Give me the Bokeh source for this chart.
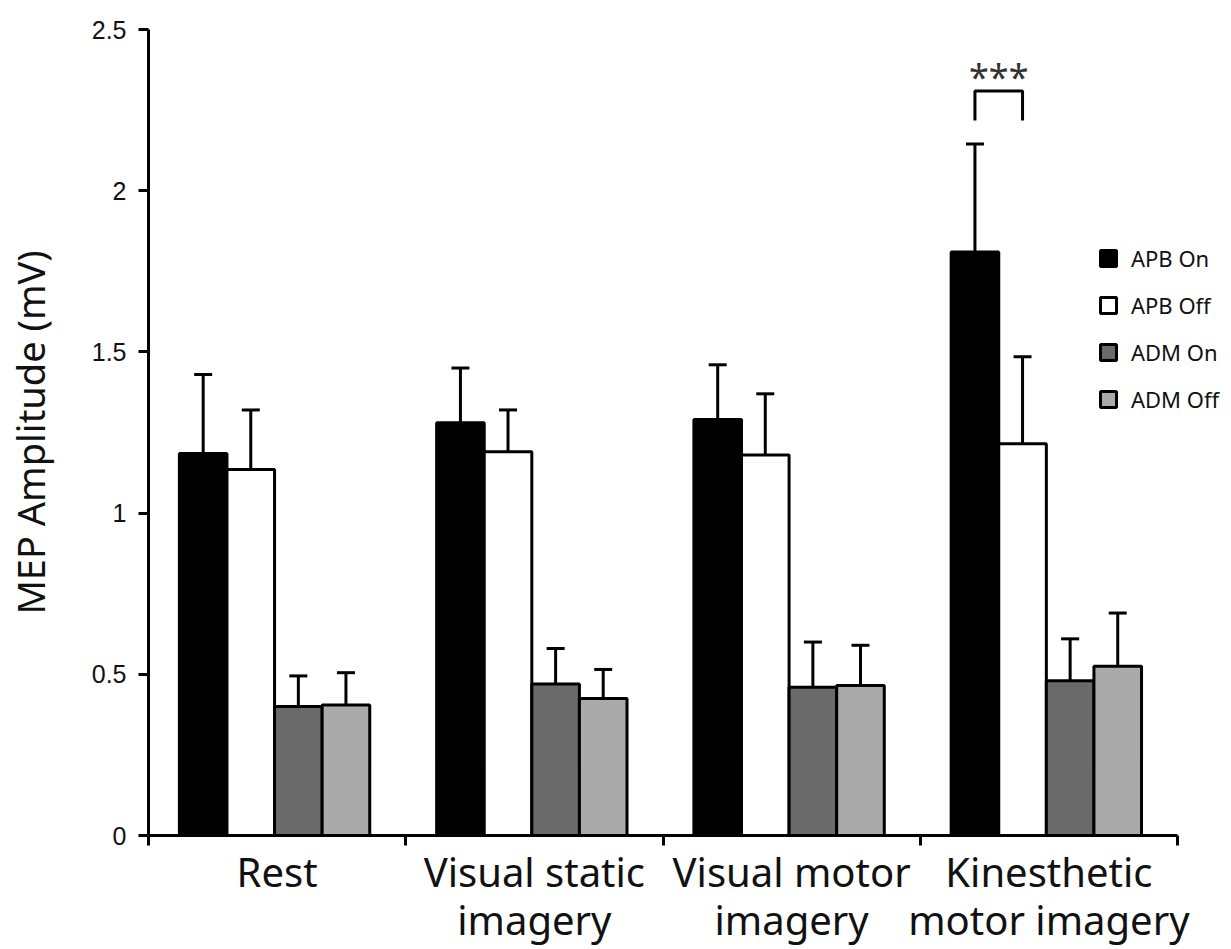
from bokeh.plotting import figure
from bokeh.models import Range1d, FixedTicker, Whisker, TeeHead, ColumnDataSource, Legend, LegendItem
from bokeh.embed import file_html
from bokeh.resources import INLINE
from bokeh.core.properties import value

# Conditions (x categories) and the four recorded series
conditions = ["Rest", "Visual static\nimagery", "Visual motor\nimagery", "Kinesthetic\nmotor imagery"]
series_names = ["APB On", "APB Off", "ADM On", "ADM Off"]
series_colors = ["#000000", "#ffffff", "#6a6a6a", "#aaaaaa"]

# Mean MEP amplitude (mV) per condition
apb_on = [1.185, 1.28, 1.29, 1.81]
apb_off = [1.135, 1.19, 1.18, 1.215]
adm_on = [0.40, 0.47, 0.46, 0.48]
adm_off = [0.405, 0.425, 0.465, 0.525]

# Standard error (mV), drawn upward only
apb_on_err = [0.245, 0.17, 0.17, 0.335]
apb_off_err = [0.185, 0.13, 0.19, 0.27]
adm_on_err = [0.095, 0.11, 0.14, 0.13]
adm_off_err = [0.10, 0.09, 0.125, 0.165]

y_ticks = [0, 0.5, 1, 1.5, 2, 2.5]
y_tick_labels = ["0", "0.5", "1", "1.5", "2", "2.5"]

means = [apb_on, apb_off, adm_on, adm_off]
errors = [apb_on_err, apb_off_err, adm_on_err, adm_off_err]

W, H = 1231, 949
LEFT, TOP, BOTTOM = 147, 29, 114
PX_PER_CAT = 257.5
x_max = (W - LEFT) / PX_PER_CAT

p = figure(width=W, height=H, output_backend="svg", toolbar_location=None,
           x_range=Range1d(0, x_max), y_range=Range1d(0, 2.5),
           min_border_left=LEFT, min_border_right=0, min_border_top=TOP, min_border_bottom=BOTTOM)
p.outline_line_color = None
p.xgrid.visible = False
p.ygrid.visible = False
p.background_fill_color = "white"
p.border_fill_color = "white"

bar_w = 0.185
group_center = 0.49
items = []
bar_x = []
for k, (name, col) in enumerate(zip(series_names, series_colors)):
    xs = [i + group_center + (k - 1.5) * bar_w for i in range(len(conditions))]
    bar_x.append(xs)
    vals = means[k]
    errs = errors[k]
    src = ColumnDataSource(dict(x=xs, top=vals, upper=[v + e for v, e in zip(vals, errs)]))
    wh = Whisker(source=src, base="x", upper="upper", lower="top",
                 line_color="black", line_width=3,
                 upper_head=TeeHead(size=18, line_width=3, line_color="black"),
                 lower_head=None)
    p.add_layout(wh)
    r = p.vbar(x="x", top="top", width=bar_w, source=src, fill_color=col,
               line_color="black", line_width=3)
    items.append(LegendItem(label=name, renderers=[r]))

# significance bracket between APB On and APB Off in the last condition
last = len(conditions) - 1
bx0, bx1 = bar_x[0][last], bar_x[1][last]
b_top, b_foot = 2.309, 2.218
p.line(x=[bx0, bx0, bx1, bx1], y=[b_foot, b_top, b_top, b_foot], line_color="black", line_width=3)
p.text(x=[(bx0 + bx1) / 2], y=[b_top + 0.045], text=["***"], text_align="center",
       text_baseline="alphabetic", text_font=value("Noto Sans"), text_font_size="36px",
       text_color="#333333")

legend = Legend(items=items, location=(950, 421), orientation="vertical",
                border_line_color=None, background_fill_alpha=0,
                padding=0, margin=0, spacing=17,
                glyph_width=20, glyph_height=20, label_height=20, label_standoff=13,
                label_text_font="Noto Sans", label_text_font_size="22px",
                label_text_color="#111111", label_text_baseline="middle")
p.add_layout(legend)

# y axis
ya = p.yaxis[0]
ya.ticker = FixedTicker(ticks=y_ticks)
ya.major_label_overrides = {t: s for t, s in zip(y_ticks, y_tick_labels)}
ya.axis_line_width = 3
ya.major_tick_line_width = 3
ya.major_tick_in = 0
ya.major_tick_out = 10
ya.minor_tick_line_color = None
ya.major_label_standoff = 12
ya.major_label_text_font = "Liberation Sans"
ya.major_label_text_font_size = "25px"
ya.major_label_text_color = "#111111"
ya.axis_label = "MEP Amplitude (mV)"
ya.axis_label_text_font = "Noto Sans"
ya.axis_label_text_font_style = "normal"
ya.axis_label_text_font_size = "38px"
ya.axis_label_text_color = "#111111"
ya.axis_label_standoff = 33

# x axis: names centred under each condition, tick marks at the boundaries
xa = p.xaxis[0]
label_pos = [i + 0.5 for i in range(len(conditions))]
xa.ticker = FixedTicker(ticks=label_pos, minor_ticks=list(range(len(conditions) + 1)))
xa.major_label_overrides = {t: s for t, s in zip(label_pos, conditions)}
xa.bounds = (0, len(conditions))
xa.axis_line_width = 3
xa.major_tick_line_color = None
xa.major_tick_in = 0
xa.major_tick_out = 0
xa.minor_tick_line_width = 3
xa.minor_tick_in = 0
xa.minor_tick_out = 10
xa.major_label_standoff = -2
xa.major_label_text_font = "Noto Sans"
xa.major_label_text_font_size = "40px"
xa.major_label_text_line_height = 0.88
xa.major_label_text_color = "#111111"

open("out.html", "w").write(file_html(p, INLINE))
